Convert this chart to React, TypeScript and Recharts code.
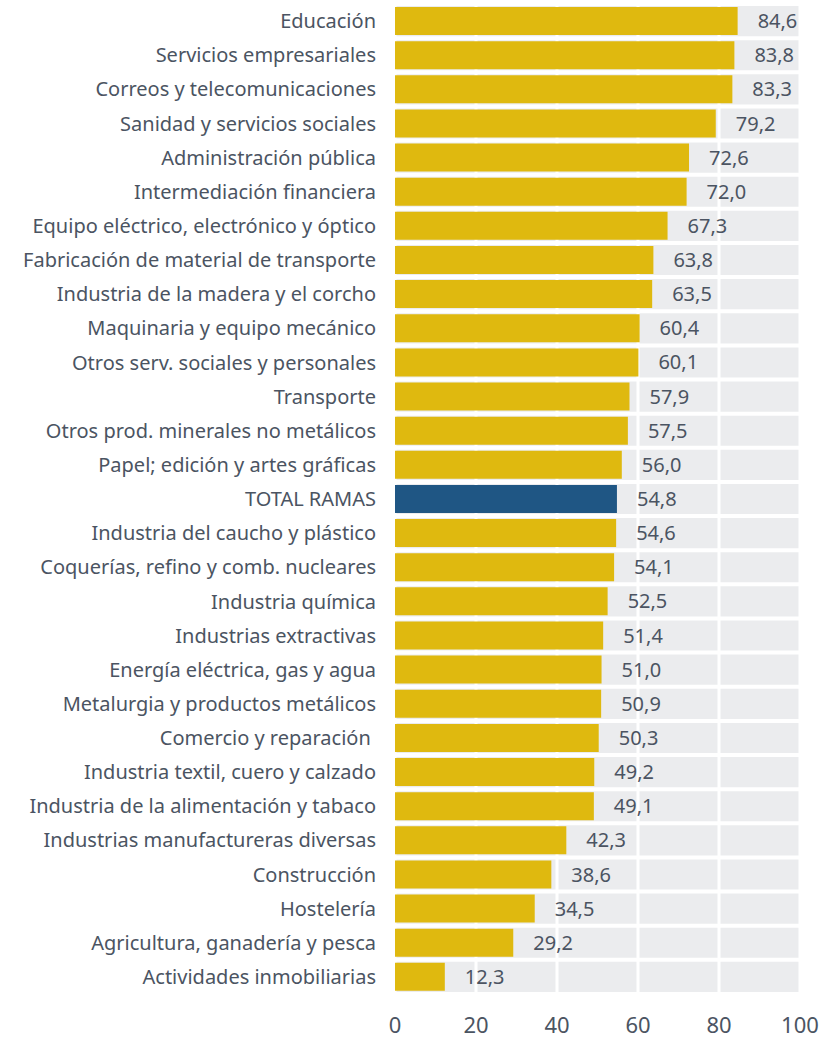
import React from 'react';
import { BarChart, Bar, XAxis, YAxis, CartesianGrid, Cell, LabelList } from 'recharts';

const categories: string[] = [
  'Educación',
  'Servicios empresariales',
  'Correos y telecomunicaciones',
  'Sanidad y servicios sociales',
  'Administración pública',
  'Intermediación financiera',
  'Equipo eléctrico, electrónico y óptico',
  'Fabricación de material de transporte',
  'Industria de la madera y el corcho',
  'Maquinaria y equipo mecánico',
  'Otros serv. sociales y  personales',
  'Transporte',
  'Otros prod. minerales no metálicos',
  'Papel; edición y artes gráficas',
  'TOTAL RAMAS',
  'Industria del caucho y plástico',
  'Coquerías, refino y comb. nucleares',
  'Industria química',
  'Industrias extractivas',
  'Energía eléctrica, gas y agua',
  'Metalurgia y  productos metálicos',
  'Comercio y reparación ',
  'Industria textil, cuero y calzado',
  'Industria de la alimentación y tabaco',
  'Industrias manufactureras diversas',
  'Construcción',
  'Hostelería',
  'Agricultura, ganadería y pesca',
  'Actividades inmobiliarias',
];

const values: number[] = [
  84.6, 83.8, 83.3, 79.2, 72.6, 72.0, 67.3, 63.8, 63.5, 60.4, 60.1, 57.9, 57.5, 56.0,
  54.8, 54.6, 54.1, 52.5, 51.4, 51.0, 50.9, 50.3, 49.2, 49.1, 42.3, 38.6, 34.5, 29.2, 12.3,
];

const xTicks: number[] = [0, 20, 40, 60, 80, 100];

const highlight = 'TOTAL RAMAS';

const data = categories.map((name, i) => ({ name, value: values[i] }));

const TEXT = '#4b5462';
const YELLOW = '#dfb90f';
const BLUE = '#1f5684';
const BG = '#ebecee';
const FONT = '"Noto Sans", sans-serif';

export default function App() {
  return (
    <div style={{ position: 'absolute', left: 0, top: 0, fontFamily: FONT }}>
      <BarChart
        width={832}
        height={1039}
        data={data}
        layout="vertical"
        margin={{ top: 4, right: 32, bottom: 0, left: 0 }}
        barSize={28}
      >
        <CartesianGrid
          fill={BG}
          fillOpacity={1}
          stroke="#ffffff"
          strokeWidth={3}
          vertical
          horizontal={false}
        />
        <CartesianGrid
          stroke="#ffffff"
          strokeWidth={4}
          vertical={false}
          horizontalCoordinatesGenerator={({ offset }: any) =>
            Array.from({ length: categories.length + 1 }, (_, i) => offset.top + (i * offset.height) / categories.length)
          }
        />
        <XAxis
          type="number"
          domain={[0, 100]}
          ticks={xTicks}
          axisLine={false}
          tickLine={false}
          tickSize={0}
          tickMargin={23}
          height={45}
          interval={0}
          tick={{ fill: TEXT, fontSize: 22, fontFamily: FONT }}
        />
        <YAxis
          type="category"
          dataKey="name"
          width={395}
          axisLine={false}
          tickLine={false}
          tickSize={0}
          tickMargin={19}
          interval={0}
          tick={{ fill: TEXT, fontSize: 20, fontFamily: FONT, style: { whiteSpace: 'pre' } }}
        />
        <Bar dataKey="value" isAnimationActive={false}>
          {data.map((d) => (
            <Cell key={d.name} fill={d.name === highlight ? BLUE : YELLOW} />
          ))}
          <LabelList
            dataKey="value"
            position="right"
            offset={20}
            fill={TEXT}
            fontSize={20}
            fontFamily={FONT}
            formatter={(v: any) => Number(v).toFixed(1).replace('.', ',')}
          />
        </Bar>
      </BarChart>
    </div>
  );
}
